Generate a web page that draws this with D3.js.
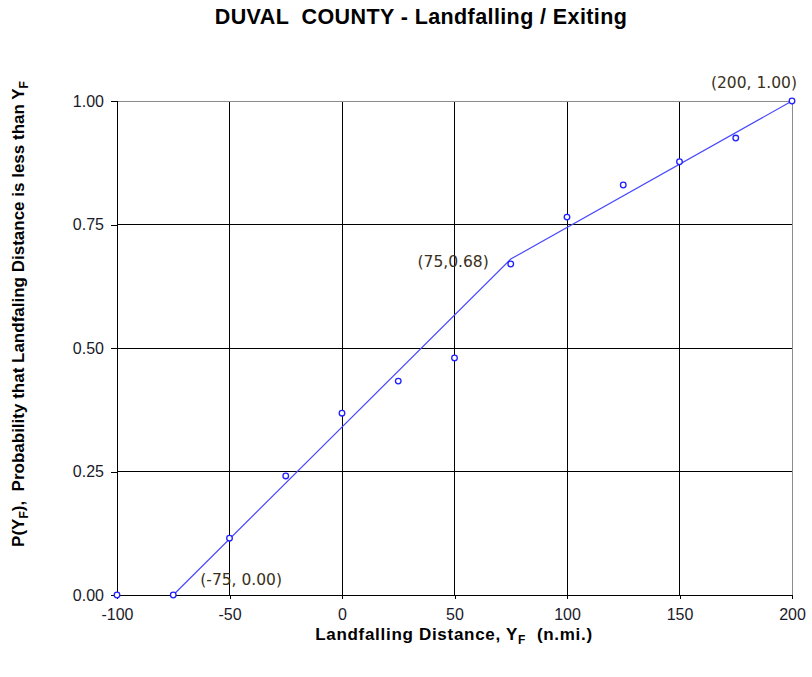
<!DOCTYPE html>
<html>
<head>
<meta charset="utf-8">
<script src="https://cdn.jsdelivr.net/npm/d3@7/dist/d3.min.js"></script>
<style>
  body { margin: 0; background: #fff; }
  svg { display: block; }
  text { font-family: "Liberation Sans", Arial, sans-serif; white-space: pre; }
</style>
</head>
<body>
<svg id="chart" width="812" height="677"></svg>
<script>
// Observed cumulative probabilities of landfalling distance
const distances = [-100, -75, -50, -25, 0, 25, 50, 75, 100, 125, 150, 175, 200];
const probabilities = [0.0, 0.0, 0.115, 0.241, 0.368, 0.433, 0.480, 0.670, 0.765, 0.830, 0.877, 0.925, 1.0];

// Piecewise-linear fitted distribution
const fitX = [-75, 75, 200];
const fitY = [0.0, 0.68, 1.0];
const fitLabels = ["(-75, 0.00)", "(75,0.68)", "(200, 1.00)"];

const xTicks = [-100, -50, 0, 50, 100, 150, 200];
const yTicks = [0, 0.25, 0.5, 0.75, 1.0];

const svg = d3.select("#chart");
const margin = { left: 117, right: 20, top: 101, bottom: 82 };
const W = 812, H = 677;

const x = d3.scaleLinear().domain([-100, 200]).range([margin.left, W - margin.right]);
const y = d3.scaleLinear().domain([0, 1]).range([H - margin.bottom, margin.top]);

// gridlines
svg.append("g").selectAll("line").data(xTicks.filter(d => d > -100 && d < 200)).join("line")
  .attr("x1", d => x(d)).attr("x2", d => x(d))
  .attr("y1", y(0)).attr("y2", y(1))
  .attr("stroke", "#000").attr("stroke-width", 1).attr("shape-rendering", "crispEdges");
svg.append("g").selectAll("line").data(yTicks.filter(d => d > 0 && d < 1)).join("line")
  .attr("x1", x(-100)).attr("x2", x(200))
  .attr("y1", d => y(d)).attr("y2", d => y(d))
  .attr("stroke", "#000").attr("stroke-width", 1).attr("shape-rendering", "crispEdges");

// top and right border
svg.append("path")
  .attr("d", `M${x(-100)},${y(1)}H${x(200)}V${y(0)}`)
  .attr("fill", "none").attr("stroke", "#8c8c8c").attr("shape-rendering", "crispEdges");

// axes
const xAxis = svg.append("g").attr("transform", `translate(0,${y(0)})`)
  .call(d3.axisBottom(x).tickValues(xTicks).tickSize(4).tickPadding(10).tickFormat(d => String(d)));
const yAxis = svg.append("g").attr("transform", `translate(${x(-100)},0)`)
  .call(d3.axisLeft(y).tickValues(yTicks).tickSize(6).tickPadding(7).tickFormat(d3.format(".2f")));
[xAxis, yAxis].forEach(a => {
  a.select(".domain").attr("stroke", "#000").attr("shape-rendering", "crispEdges");
  a.selectAll(".tick line").attr("stroke", "#000").attr("shape-rendering", "crispEdges");
  a.selectAll(".tick text").attr("fill", "#1a1a2a").attr("font-size", 16)
    .style("font-family", "'Liberation Sans', Arial, sans-serif");
});

// fitted line
svg.append("path")
  .datum(fitX.map((d, i) => [d, fitY[i]]))
  .attr("d", d3.line().x(d => x(d[0])).y(d => y(d[1])))
  .attr("fill", "none").attr("stroke", "#4a4aff").attr("stroke-width", 1.2);

// observed points
svg.append("g").selectAll("circle").data(distances.map((d, i) => [d, probabilities[i]])).join("circle")
  .attr("cx", d => x(d[0])).attr("cy", d => y(d[1])).attr("r", 2.8)
  .attr("fill", "#fff").attr("stroke", "#2020ff").attr("stroke-width", 1.3);

// breakpoint labels
const labelOffsets = [[27, -15, "start"], [-22, 3, "end"], [5, -18, "end"]];
svg.append("g").selectAll("text").data(fitLabels).join("text")
  .attr("x", (d, i) => x(fitX[i]) + labelOffsets[i][0])
  .attr("y", (d, i) => y(fitY[i]) + labelOffsets[i][1])
  .attr("text-anchor", (d, i) => labelOffsets[i][2])
  .attr("dominant-baseline", "middle")
  .attr("fill", "#3a3020")
  .style("font-family", "'DejaVu Sans', Verdana, sans-serif")
  .style("font-size", "15.5px")
  .text(d => d);

// title
svg.append("text").attr("x", 421).attr("y", 24).attr("text-anchor", "middle")
  .attr("font-size", 21.5).attr("font-weight", "bold").attr("fill", "#000")
  .attr("letter-spacing", 0.4)
  .text("DUVAL  COUNTY - Landfalling / Exiting");

// x axis title
const xt = svg.append("text").attr("x", 454).attr("y", 640).attr("text-anchor", "middle")
  .attr("font-size", 17).attr("font-weight", "bold").attr("fill", "#000")
  .attr("letter-spacing", 0.7);
xt.append("tspan").text("Landfalling Distance, Y");
xt.append("tspan").attr("font-size", 12).attr("dy", 4).text("F");
xt.append("tspan").attr("dy", -4).text("  (n.mi.)");

// y axis title
const yt = svg.append("text").attr("transform", `translate(24,314) rotate(-90)`).attr("text-anchor", "middle")
  .attr("font-size", 17).attr("font-weight", "bold").attr("fill", "#000");
yt.append("tspan").text("P(Y");
yt.append("tspan").attr("font-size", 12).attr("dy", 4).text("F");
yt.append("tspan").attr("dy", -4).text("),  Probability that Landfaling Distance is less than Y");
yt.append("tspan").attr("font-size", 12).attr("dy", 4).text("F");
</script>
</body>
</html>
